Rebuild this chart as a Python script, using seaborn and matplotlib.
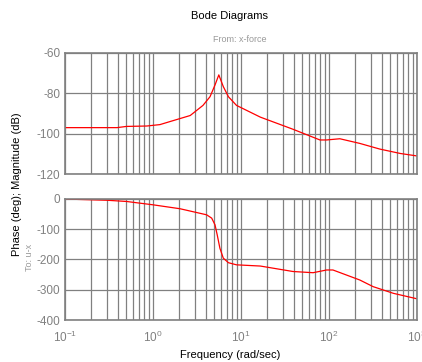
import numpy as np
import pandas as pd
import matplotlib
matplotlib.use("Agg")
import matplotlib.pyplot as plt
import seaborn as sns
from matplotlib.ticker import LogLocator

# Values
freq_mag = [0.1, 0.39, 0.5, 0.85, 1.2, 1.56, 2.65, 3.7, 4.45, 5.07, 5.6, 6.3,
            7.2, 8.9, 16.6, 39, 79, 94, 133, 224, 378, 650, 1000]
mag_db = [-97, -97, -96.4, -96.2, -95.5, -94, -91, -86, -81.7, -75.9, -70.9,
          -76.7, -81.7, -86, -91.8, -97.8, -103.1, -103.1, -102.5, -104.8,
          -107.6, -109.8, -111]

freq_phase = [0.1, 0.3, 0.5, 1.0, 2.03, 4.07, 4.65, 5.07, 5.37, 5.76, 6.3,
              7.2, 8.9, 16.6, 39, 66, 94, 111, 224, 318, 540, 1000]
phase_deg = [-1, -5, -9, -20, -33, -53, -64, -86, -119, -163, -196, -211,
             -218, -222, -240, -244, -235, -235, -268, -290, -312, -330]

mag_ticks = [-60, -80, -100, -120]
phase_ticks = [0, -100, -200, -300, -400]

sns.set_style("white")
plt.rcParams['font.family'] = ['Liberation Sans', 'DejaVu Sans']
plt.rcParams['axes.unicode_minus'] = False

grey = "#808080"
fig = plt.figure(figsize=(4.22, 3.62), dpi=100)
ax1 = fig.add_axes([0.154, 0.519, 0.834, 0.335])
ax2 = fig.add_axes([0.154, 0.116, 0.834, 0.335])

df_mag = pd.DataFrame({"f": freq_mag, "m": mag_db})
df_ph = pd.DataFrame({"f": freq_phase, "p": phase_deg})
sns.lineplot(data=df_mag, x="f", y="m", ax=ax1, color="red", linewidth=0.9)
sns.lineplot(data=df_ph, x="f", y="p", ax=ax2, color="red", linewidth=0.9)

for ax, ticks in [(ax1, mag_ticks), (ax2, phase_ticks)]:
    ax.set_xscale("log")
    ax.set_xlim(0.1, 1000)
    ax.set_ylim(min(ticks), max(ticks))
    ax.set_yticks(ticks)
    ax.xaxis.set_major_locator(LogLocator(base=10, numticks=10))
    ax.xaxis.set_minor_locator(LogLocator(base=10, subs=np.arange(2, 10), numticks=10))
    ax.grid(True, which="both", axis="x", color=grey, linewidth=0.9)
    ax.grid(True, which="major", axis="y", color=grey, linewidth=0.9)
    ax.set_axisbelow(True)
    ax.tick_params(axis="both", which="both", length=0, colors=grey, labelsize=8.5)
    for s in ax.spines.values():
        s.set_color(grey)
        s.set_linewidth(1.2)
    ax.set_xlabel("")
    ax.set_ylabel("")

ax1.tick_params(axis="x", labelbottom=False)
ax2.tick_params(axis="x", pad=7)

fig.text(0.545, 0.955, "Bode Diagrams", ha="center", va="center", fontsize=8, color="black")
fig.text(0.569, 0.892, "From: x-force", ha="center", va="center", fontsize=6.5, color="#999999")
fig.text(0.071, 0.29, "To: u-x", ha="center", va="center", rotation=90, fontsize=6.5, color="#999999")
fig.text(0.04, 0.49, "Phase (deg); Magnitude (dB)", ha="center", va="center", rotation=90,
         fontsize=8, color="black")
fig.text(0.545, 0.02, "Frequency (rad/sec)", ha="center", va="center", fontsize=8, color="black")

fig.savefig("out.png", dpi=100)
